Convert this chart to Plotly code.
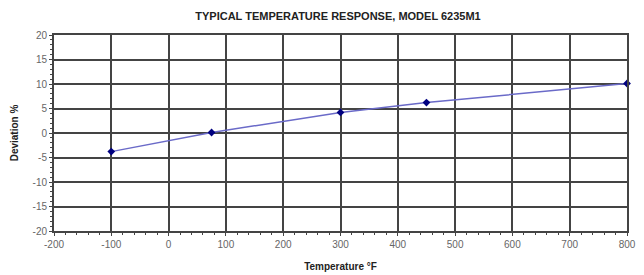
import plotly.graph_objects as go

temperature_f = [-100, 75, 300, 450, 800]
deviation_pct = [-3.8, 0.1, 4.2, 6.2, 10.1]

x_ticks = [-200, -100, 0, 100, 200, 300, 400, 500, 600, 700, 800]
y_ticks = [-20, -15, -10, -5, 0, 5, 10, 15, 20]

fig = go.Figure()
fig.add_trace(go.Scatter(
    x=temperature_f, y=deviation_pct, mode="lines+markers",
    line=dict(color="#6a6ac8", width=1.5),
    marker=dict(symbol="diamond", size=6, color="#000080"),
    showlegend=False, cliponaxis=False,
))

font = "Liberation Sans, Arial, sans-serif"
fig.update_layout(
    width=644, height=275,
    margin=dict(l=54, r=17, t=35, b=44),
    paper_bgcolor="white", plot_bgcolor="white",
    title=dict(text="<b>TYPICAL TEMPERATURE RESPONSE, MODEL 6235M1</b>",
               x=338 / 644, xanchor="center", y=1 - 16 / 275, yanchor="middle",
               font=dict(family=font, size=11, color="#222")),
    font=dict(family=font, size=10, color="#666"),
)
fig.update_xaxes(
    range=[-200, 800], tickvals=x_ticks, ticktext=[str(v) for v in x_ticks],
    showgrid=True, gridcolor="#444", gridwidth=2,
    showline=True, linecolor="#444", linewidth=2, mirror=True,
    ticks="outside", ticklen=3, tickcolor="#444",
    minor=dict(dtick=20, ticks="outside", ticklen=2, tickcolor="#444", showgrid=False),
    zeroline=False, automargin=False,
    title=dict(text="<b>Temperature °F</b>", font=dict(size=10, color="#222"), standoff=14),
)
fig.update_yaxes(
    range=[-20, 20], tickvals=y_ticks, ticktext=[str(v) for v in y_ticks],
    showgrid=True, gridcolor="#444", gridwidth=2,
    showline=True, linecolor="#444", linewidth=2, mirror=True,
    ticks="outside", ticklen=3, tickcolor="#444",
    minor=dict(dtick=1, ticks="outside", ticklen=2, tickcolor="#444", showgrid=False),
    zeroline=False, automargin=False,
    title=dict(text="<b>Deviation %</b>", font=dict(size=10, color="#222"), standoff=12),
)
fig.write_html("out.html", config={"displayModeBar": False},
               post_script="document.body.style.margin='0';document.body.style.overflow='hidden';")
